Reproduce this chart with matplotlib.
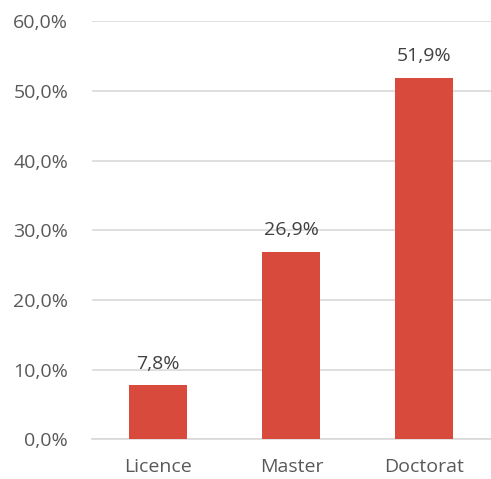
import matplotlib
matplotlib.use("Agg")
import matplotlib.pyplot as plt
from matplotlib.ticker import FuncFormatter

categories = ["Licence", "Master", "Doctorat"]
values = [7.8, 26.9, 51.9]
yticks = [0, 10, 20, 30, 40, 50, 60]

bar_color = "#D84B3C"
text_color = "#595959"
grid_color = "#D9D9D9"

plt.rcParams['font.family'] = ['Open Sans', 'DejaVu Sans']

fig = plt.figure(figsize=(4.91, 4.79), dpi=100)
ax = fig.add_axes([0.187, 0.0825, 0.813, 0.8735])

x = list(range(len(categories)))
bars = ax.bar(x, values, width=0.436, color=bar_color, zorder=3)

for xi, v in zip(x, values):
    ax.annotate(f"{v:.1f}%".replace(".", ","), (xi, v), xytext=(0, 9),
                textcoords="offset points", ha="center", va="bottom",
                fontsize=14, color="#404040")

ax.set_xlim(-0.5, 2.5)
ax.set_ylim(0, 60)
ax.set_yticks(yticks)
ax.yaxis.set_major_formatter(FuncFormatter(lambda v, p: f"{v:.1f}%".replace(".", ",")))
ax.set_xticks(x)
ax.set_xticklabels(categories)
ax.tick_params(axis="both", length=0, labelsize=14, colors=text_color)
ax.tick_params(axis="y", pad=17)
ax.tick_params(axis="x", pad=13)

ax.grid(axis="y", color=grid_color, linewidth=1.2, zorder=0)
for s in ["top", "right", "left"]:
    ax.spines[s].set_visible(False)
ax.spines["bottom"].set_color(grid_color)
ax.spines["bottom"].set_linewidth(1.2)

fig.savefig("out.png", dpi=100)
